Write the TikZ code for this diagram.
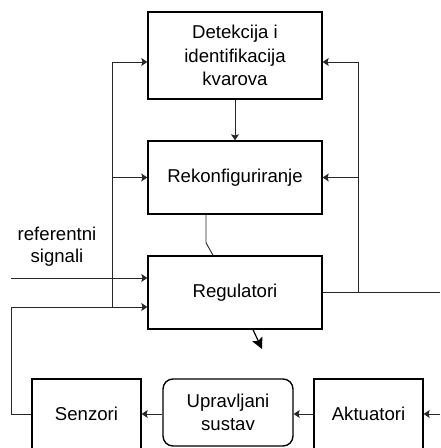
\documentclass[tikz,border=0pt]{standalone}
\usepackage{fontspec}
\setmainfont{Liberation Sans}
\usetikzlibrary{arrows.meta}
\begin{document}
\begin{tikzpicture}[x=1pt,y=1pt,
  block/.style={draw=black,line width=1.4pt,minimum width=174pt,align=center,
    inner sep=2pt,font=\fontsize{18.6}{23.5}\selectfont},
  lowblock/.style={draw=black,line width=1.4pt,minimum width=109pt,minimum height=70pt,
    align=center,inner sep=2pt,font=\fontsize{18.6}{23.5}\selectfont},
  conn/.style={draw=black!85,line width=0.9pt},
  arr/.style={conn,-{Stealth[length=6pt,width=8pt,inset=1.2pt]}},
  bigarr/.style={draw=black,line width=1.2pt,-{Stealth[length=11pt,width=11pt,inset=2pt]}}]
\useasboundingbox (0,0) rectangle (440,448);

% main column of blocks
\node[block,minimum height=87pt] (det) at (235,392.5) {Detekcija i\\identifikacija\\kvarova};
\node[block,minimum height=73pt] (rek) at (235,270.5) {Rekonfiguriranje};
\node[block,minimum height=73pt] (reg) at (235,155.5) {Regulatori};

% process chain
\node[lowblock] (sen) at (86.5,34) {Senzori};
\node[lowblock,minimum width=130pt,minimum height=67pt,rounded corners=10pt] (upr) at (228,35.5) {Upravljani\\sustav};
\node[lowblock] (akt) at (368.5,34) {Aktuatori};

% reference input
\node[font=\fontsize{18.6}{21.5}\selectfont,align=center] (reflab) at (57,201.5) {referentni\\signali};
\coordinate (refin) at (11,170);
\draw[arr] (refin) -- ([yshift=14.5pt]reg.west);

% measurement feedback from the sensors
\coordinate (fbc) at (11,141);
\coordinate (fbj) at (112,141);
\draw[conn] (sen.west) -- (sen.west -| fbc) -- (fbc);
\draw[arr] (fbc) -- ([yshift=-14.5pt]reg.west);
\draw[arr] (fbj) |- ([yshift=-6.5pt]det.west);
\draw[arr] (fbj |- rek.west) -- (rek.west);

% controller output fed back to the upper blocks
\coordinate (outr) at (440,155.5);
\coordinate (outj) at (358,155.5);
\draw[conn] (reg.east) -- (outr);
\draw[arr] (outj) |- ([yshift=-6.5pt]det.east);
\draw[arr] (outj |- rek.east) -- (rek.east);

% fault detection drives reconfiguration
\draw[arr] (det.south) -- (rek.north);

% reconfiguration switch into the controllers
\draw[conn] ([xshift=-29pt]rek.south) -- ++(0,-28) -- ([xshift=-22pt]reg.north);

% control signal
\coordinate (ctl) at (262,99);
\draw[bigarr] ([xshift=18pt]reg.south) -- (ctl);

% signal flow along the plant
\coordinate (aktin) at (440,34);
\draw[arr] (aktin) -- (akt.east);
\draw[arr] (akt.west) -- (akt.west -| upr.east);
\draw[arr] (upr.west |- sen.east) -- (sen.east);
\end{tikzpicture}
\end{document}
